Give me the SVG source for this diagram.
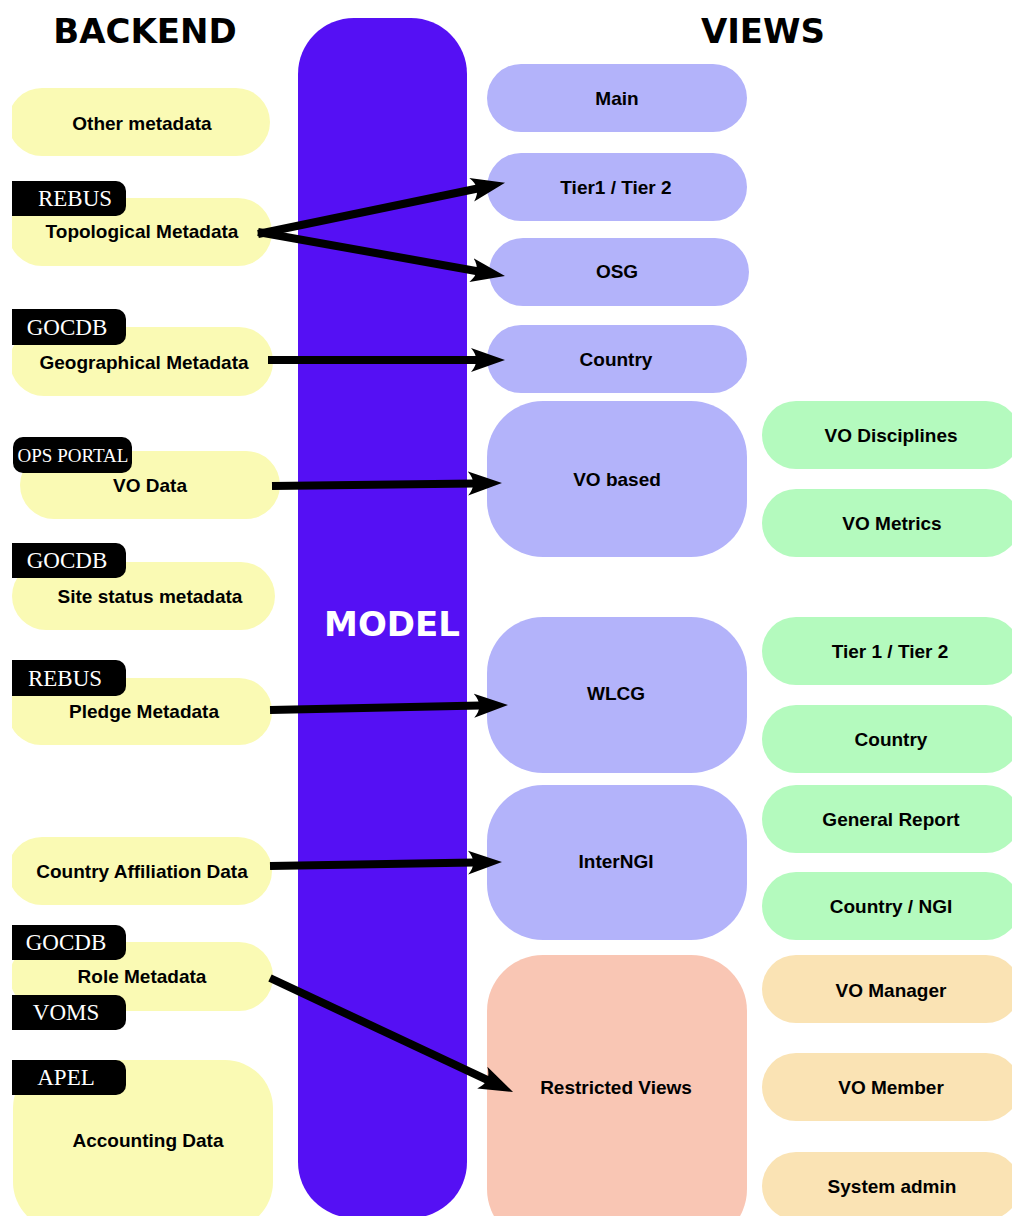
<svg xmlns="http://www.w3.org/2000/svg" width="1012" height="1216" viewBox="0 0 1012 1216">
<style>
.t{font-family:"Liberation Sans",Arial,sans-serif;font-weight:bold;font-size:19px;fill:#000;text-anchor:middle}
.h{font-family:"DejaVu Sans",sans-serif;font-weight:bold;font-size:34px;text-anchor:middle}
.g{font-family:"Liberation Serif","Times New Roman",serif;font-size:23px;fill:#fff;text-anchor:middle}
.y{fill:#fafab4}
.p{fill:#b3b3fa}
.gr{fill:#b4fabe}
.o{fill:#fae3b4}
.tag{fill:#000}
.a{stroke:#000;stroke-width:8;fill:none;marker-end:url(#ah)}
</style>
<defs>
<marker id="ah" markerUnits="userSpaceOnUse" viewBox="0 -15 40 30" markerWidth="40" markerHeight="30" refX="6" refY="0" orient="auto">
<path d="M0,-12 L34,0 L0,12 C7,4 7,-4 0,-12 Z" fill="#000"/>
</marker>
<clipPath id="lc"><rect x="12" y="0" width="1000" height="1216"/></clipPath>
</defs>
<rect width="1012" height="1216" fill="#fff"/>
<text class="h" x="145" y="43">BACKEND</text>
<text class="h" x="763" y="43">VIEWS</text>
<g id="model">
<rect x="298" y="18" width="169" height="1200" rx="56" fill="#5510f4"/>
<text class="h" x="392" y="636" fill="#fff">MODEL</text>
</g>
<g clip-path="url(#lc)">
<g id="other-metadata"><rect class="y" x="8" y="88" width="262" height="68" rx="34"/><text class="t" x="142" y="130">Other metadata</text></g>
<g id="topological"><rect class="y" x="8" y="198" width="264" height="68" rx="34"/><path class="tag" d="M12,181 H116 A10,10 0 0 1 126,191 V206 A10,10 0 0 1 116,216 H12 Z"/><text class="g" x="75" y="206">REBUS</text><text class="t" x="142" y="238">Topological Metadata</text></g>
<g id="geographical"><rect class="y" x="10" y="327" width="263" height="69" rx="34"/><path class="tag" d="M12,309 H116 A10,10 0 0 1 126,319 V335 A10,10 0 0 1 116,345 H12 Z"/><text class="g" x="67" y="335">GOCDB</text><text class="t" x="144" y="369">Geographical Metadata</text></g>
<g id="vo-data"><rect class="y" x="20" y="451" width="260" height="68" rx="34"/><rect class="tag" x="13" y="437" width="119" height="36" rx="10"/><text class="g" x="73" y="462" style="font-size:19px">OPS PORTAL</text><text class="t" x="150" y="492">VO Data</text></g>
<g id="site-status"><rect class="y" x="12" y="562" width="263" height="68" rx="34"/><path class="tag" d="M12,543 H116 A10,10 0 0 1 126,553 V568 A10,10 0 0 1 116,578 H12 Z"/><text class="g" x="67" y="568">GOCDB</text><text class="t" x="150" y="603">Site status metadata</text></g>
<g id="pledge"><rect class="y" x="8" y="678" width="264" height="67" rx="33"/><path class="tag" d="M12,660 H116 A10,10 0 0 1 126,670 V686 A10,10 0 0 1 116,696 H12 Z"/><text class="g" x="65" y="686">REBUS</text><text class="t" x="144" y="718">Pledge Metadata</text></g>
<g id="country-affiliation"><rect class="y" x="8" y="837" width="264" height="68" rx="34"/><text class="t" x="142" y="878">Country Affiliation Data</text></g>
<g id="role"><rect class="y" x="10" y="942" width="263" height="69" rx="34"/><path class="tag" d="M12,925 H116 A10,10 0 0 1 126,935 V950 A10,10 0 0 1 116,960 H12 Z"/><text class="g" x="66" y="950">GOCDB</text><path class="tag" d="M12,995 H116 A10,10 0 0 1 126,1005 V1020 A10,10 0 0 1 116,1030 H12 Z"/><text class="g" x="66" y="1020">VOMS</text><text class="t" x="142" y="983">Role Metadata</text></g>
<g id="accounting"><rect class="y" x="13" y="1060" width="260" height="170" rx="48"/><path class="tag" d="M12,1060 H116 A10,10 0 0 1 126,1070 V1085 A10,10 0 0 1 116,1095 H12 Z"/><text class="g" x="66" y="1085">APEL</text><text class="t" x="148" y="1147">Accounting Data</text></g>
</g>
<g id="main"><rect class="p" x="487" y="64" width="260" height="68" rx="34"/><text class="t" x="617" y="105">Main</text></g>
<g id="tier12"><rect class="p" x="487" y="153" width="260" height="68" rx="34"/><text class="t" x="616" y="194">Tier1 / Tier 2</text></g>
<g id="osg"><rect class="p" x="489" y="238" width="260" height="68" rx="34"/><text class="t" x="617" y="278">OSG</text></g>
<g id="country-view"><rect class="p" x="487" y="325" width="260" height="68" rx="34"/><text class="t" x="616" y="366">Country</text></g>
<g id="vo-based"><rect class="p" x="487" y="401" width="260" height="156" rx="56"/><text class="t" x="617" y="486">VO based</text></g>
<g id="wlcg"><rect class="p" x="487" y="617" width="260" height="156" rx="56"/><text class="t" x="616" y="700">WLCG</text></g>
<g id="interngi"><rect class="p" x="487" y="785" width="260" height="155" rx="56"/><text class="t" x="616" y="868">InterNGI</text></g>
<g id="restricted"><rect x="487" y="955" width="260" height="290" rx="56" fill="#f9c6b4"/><text class="t" x="616" y="1094">Restricted Views</text></g>
<g id="vo-disciplines"><rect class="gr" x="762" y="401" width="258" height="68" rx="34"/><text class="t" x="891" y="442">VO Disciplines</text></g>
<g id="vo-metrics"><rect class="gr" x="762" y="489" width="258" height="68" rx="34"/><text class="t" x="892" y="530">VO Metrics</text></g>
<g id="wlcg-tier"><rect class="gr" x="762" y="617" width="258" height="68" rx="34"/><text class="t" x="890" y="658">Tier 1 / Tier 2</text></g>
<g id="wlcg-country"><rect class="gr" x="762" y="705" width="258" height="68" rx="34"/><text class="t" x="891" y="746">Country</text></g>
<g id="general-report"><rect class="gr" x="762" y="785" width="258" height="68" rx="34"/><text class="t" x="891" y="826">General Report</text></g>
<g id="country-ngi"><rect class="gr" x="762" y="872" width="258" height="68" rx="34"/><text class="t" x="891" y="913">Country / NGI</text></g>
<g id="vo-manager"><rect class="o" x="762" y="955" width="258" height="68" rx="34"/><text class="t" x="891" y="997">VO Manager</text></g>
<g id="vo-member"><rect class="o" x="762" y="1053" width="258" height="68" rx="34"/><text class="t" x="891" y="1094">VO Member</text></g>
<g id="system-admin"><rect class="o" x="762" y="1152" width="258" height="68" rx="34"/><text class="t" x="892" y="1193">System admin</text></g>
<g id="connectors">
<path class="a" d="M258,234 L477.6,188.5"/>
<path class="a" d="M258,232 L477.4,271.2"/>
<path class="a" d="M268,360 L477,360"/>
<path class="a" d="M272,486 L474,483.4"/>
<path class="a" d="M270,710 L480,705.6"/>
<path class="a" d="M270,866 L474,862.5"/>
<path class="a" d="M270,978 L487.7,1080.1"/>
</g>
</svg>
